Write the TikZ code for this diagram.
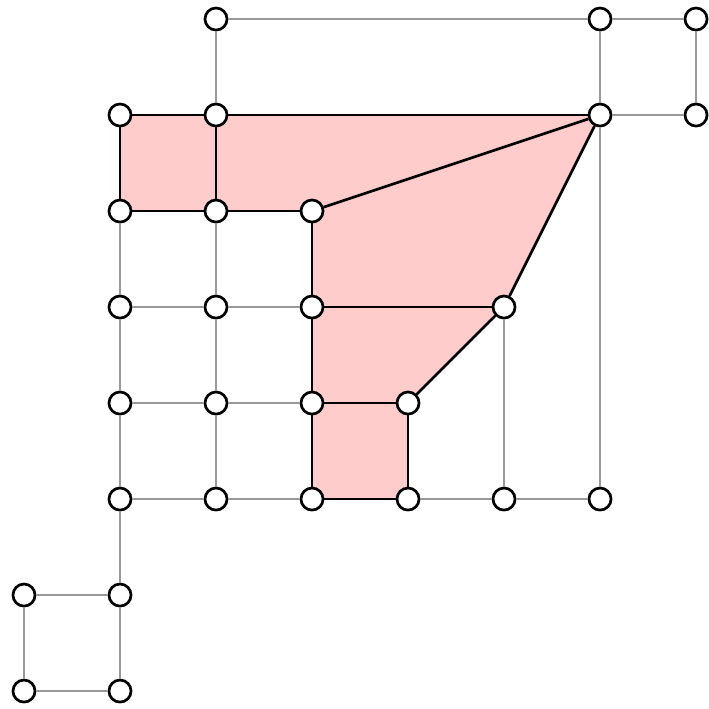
\documentclass[tikz,border=0pt]{standalone}
\usepackage{tikz}
\usetikzlibrary{backgrounds}
\definecolor{EdgeGray}{HTML}{999999}
\definecolor{FacePink}{HTML}{FFCCCC}
\tikzset{
  vtx/.style={circle,draw=black,fill=white,line width=0.8pt,inner sep=0pt,minimum size=0.23cm},
  gedge/.style={EdgeGray,line width=0.75pt},
  bedge/.style={black,line width=0.8pt},
}

\begin{document}
\begin{tikzpicture}[x=1cm,y=-1cm]
      \useasboundingbox (-0.25,-0.198) rectangle (7.135,7.177);
      % grid vertices v<column><row>
      \foreach \c/\r in {2/0,6/0,7/0,1/1,2/1,6/1,7/1,1/2,2/2,3/2,1/3,2/3,3/3,5/3,
                         1/4,2/4,3/4,4/4,1/5,2/5,3/5,4/5,5/5,6/5,0/6,1/6,0/7,1/7}
        \node[vtx] (v\c\r) at (\c,\r) {};
      % grey edges
      \foreach \a/\b in {20/60,60/70,70/71,61/71,20/21,60/61,61/65,
                         12/13,13/14,14/15,15/16,16/17,22/23,23/24,24/25,
                         13/23,23/33,14/24,24/34,15/25,25/35,45/55,55/65,53/55,
                         06/16,06/07,07/17}
        \draw[gedge] (v\a)--(v\b);
      % black edges
      \foreach \a/\b in {11/21,21/61,11/12,21/22,12/22,22/32,32/61,61/53,
                         32/33,33/53,53/44,33/34,34/44,44/45,34/35,35/45}
        \draw[bedge] (v\a)--(v\b);
      % shaded face
      \begin{scope}[on background layer]
        \fill[FacePink] (v11.center)--(v61.center)--(v53.center)--(v44.center)
          --(v45.center)--(v35.center)--(v32.center)--(v12.center)--cycle;
      \end{scope}
    \end{tikzpicture}
\end{document}
